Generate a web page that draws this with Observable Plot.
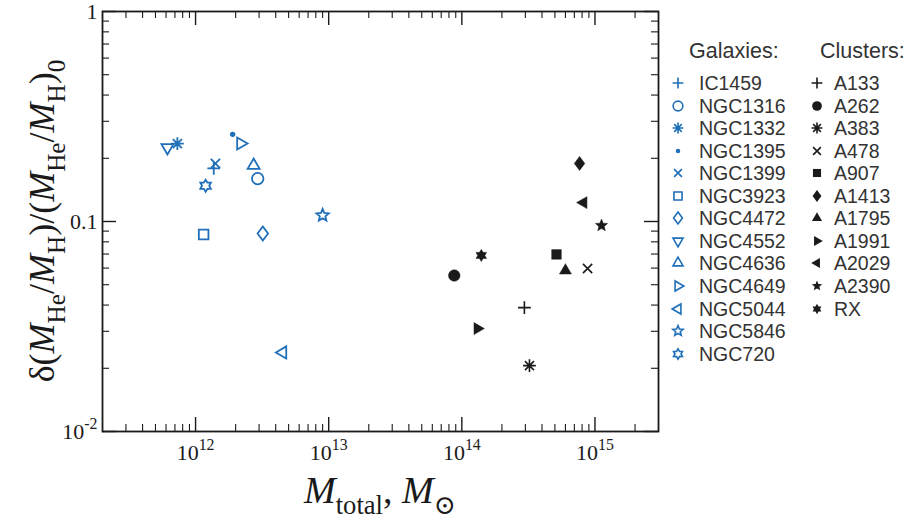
<!DOCTYPE html>
<html><head><meta charset="utf-8">
<script src="https://cdn.jsdelivr.net/npm/d3@7"></script>
<script src="https://cdn.jsdelivr.net/npm/@observablehq/plot@0.6"></script>
<style>
body{margin:0;background:#fff;}
#wrap{position:relative;width:913px;height:520px;overflow:hidden;}
#chart{position:absolute;left:0;top:0;}
.lg{position:absolute;font-family:"Liberation Sans",Arial,sans-serif;font-size:19.5px;color:#333;line-height:22px;white-space:nowrap;}
.lg.h{font-size:21.5px;}
.ls{position:absolute;}
</style></head><body>
<div id="wrap"><div id="chart"></div><div id="legend"></div></div>
<script>
// ---- data ----
const galaxyNames = ["IC1459","NGC1316","NGC1332","NGC1395","NGC1399","NGC3923","NGC4472","NGC4552","NGC4636","NGC4649","NGC5044","NGC5846","NGC720"];
const galaxyMass  = [1.37e12, 2.93e12, 7.3e11, 1.90e12, 1.41e12, 1.15e12, 3.2e12, 6.15e11, 2.73e12, 2.18e12, 4.52e12, 9.0e12, 1.19e12];
const galaxyDelta = [0.179, 0.160, 0.235, 0.260, 0.189, 0.0867, 0.0877, 0.225, 0.185, 0.235, 0.0238, 0.107, 0.148];
const galaxyShapes = ["plus","circle","asterisk","point","times","square","diamond","triangleDown","triangleUp","triangleRight","triangleLeft","star","hexagram"];

const clusterNames = ["A133","A262","A383","A478","A907","A1413","A1795","A1991","A2029","A2390","RX"];
const clusterMass  = [2.95e14, 8.77e13, 3.22e14, 8.8e14, 5.14e14, 7.66e14, 6.0e14, 1.31e14, 8.2e14, 1.12e15, 1.40e14];
const clusterDelta = [0.0389, 0.0553, 0.0206, 0.0597, 0.0697, 0.189, 0.0584, 0.0309, 0.123, 0.0957, 0.0689];
const clusterShapes = ["plus","circle","asterisk","times","square","diamond","triangleUp","triangleRight","triangleLeft","star","hexagram"];

const xDomain = [2e11, 3e15];
const yDomain = [0.01, 1];
const xTicks = [1e12, 1e13, 1e14, 1e15];
const yTicks = [0.01, 0.1, 1];

// ---- styling ----
const BLUE = "#1f6fb9", INK = "#1a1a1a";
const SERIF = "'Liberation Serif','DejaVu Serif',serif";
const W = 670, H = 520, ML = 102, MR = 12, MT = 11, MB = 89;
const innerW = W - ML - MR, innerH = H - MT - MB;

// ---- custom symbols ----
function sym(fn){ return {draw(ctx, size){ fn(ctx, Math.sqrt(size / Math.PI)); }}; }
function poly(c, pts){ c.moveTo(pts[0][0], pts[0][1]); for (let i = 1; i < pts.length; i++) c.lineTo(pts[i][0], pts[i][1]); c.closePath(); }
function tri(r, ang){ const out=[]; for (let k=0;k<3;k++){ const a=(ang+120*k)*Math.PI/180; out.push([r*Math.cos(a), r*Math.sin(a)]);} return out; }
function starPts(n, ro, ri){ const out=[]; for (let k=0;k<2*n;k++){ const a=-Math.PI/2 + k*Math.PI/n; const rr = k%2 ? ri : ro; out.push([rr*Math.cos(a), rr*Math.sin(a)]);} return out; }
const SYM = {
  plus: sym((c,r)=>{ c.moveTo(-r,0); c.lineTo(r,0); c.moveTo(0,-r); c.lineTo(0,r); }),
  times: sym((c,r)=>{ const a=r*0.72; c.moveTo(-a,-a); c.lineTo(a,a); c.moveTo(-a,a); c.lineTo(a,-a); }),
  asterisk: sym((c,r)=>{ for (let i=0;i<4;i++){ const t=i*Math.PI/4, x=r*Math.cos(t), y=r*Math.sin(t); c.moveTo(-x,-y); c.lineTo(x,y);} }),
  circle: sym((c,r)=>{ const a=r*0.9; c.moveTo(a,0); c.arc(0,0,a,0,2*Math.PI); }),
  point: sym((c,r)=>{ const a=r*0.42; c.moveTo(a,0); c.arc(0,0,a,0,2*Math.PI); }),
  square: sym((c,r)=>{ const a=r*0.75; c.rect(-a,-a,2*a,2*a); }),
  diamond: sym((c,r)=>poly(c, [[0,-r*1.1],[r*0.82,0],[0,r*1.1],[-r*0.82,0]])),
  triangleUp: sym((c,r)=>poly(c, tri(r*1.08,-90))),
  triangleDown: sym((c,r)=>poly(c, tri(r*1.08,90))),
  triangleRight: sym((c,r)=>poly(c, tri(r*1.08,0))),
  triangleLeft: sym((c,r)=>poly(c, tri(r*1.08,180))),
  star: sym((c,r)=>poly(c, starPts(5, r, r*0.45))),
  hexagram: sym((c,r)=>poly(c, starPts(6, r*0.95, r*0.56)))
};
const lineShapes = new Set(["plus","times","asterisk"]);

const galaxies = galaxyNames.map((n,i)=>({name:n, mass:galaxyMass[i], delta:galaxyDelta[i], shape:galaxyShapes[i]}));
const clusters = clusterNames.map((n,i)=>({name:n, mass:clusterMass[i], delta:clusterDelta[i], shape:clusterShapes[i]}));

// minor tick positions
const xMinor = [], yMinor = [];
for (let e = 11; e <= 15; e++) for (let m = 2; m <= 9; m++) { const v = m * 10 ** e; if (v > xDomain[0] * 1.001 && v < xDomain[1] * 0.999) xMinor.push(v); }
for (let e = -2; e <= -1; e++) for (let m = 2; m <= 9; m++) yMinor.push(m * 10 ** e);

const fmt = d => { const e = Math.round(Math.log10(d)); return (d === 1 || d === 0.1) ? String(d) : "10^" + e; };

const R = 6.4;
const chart = Plot.plot({
  width: W, height: H,
  marginLeft: ML, marginRight: MR, marginTop: MT, marginBottom: MB,
  style: {fontFamily: SERIF, fontSize: "22px", color: INK, background: "#fff"},
  x: {type: "log", domain: xDomain},
  y: {type: "log", domain: yDomain},
  marks: [
    Plot.tickX(xMinor, {x: d=>d, insetTop: innerH - 7, stroke: INK, strokeWidth: 1.1}),
    Plot.tickX(xMinor, {x: d=>d, insetBottom: innerH - 7, stroke: INK, strokeWidth: 1.1}),
    Plot.tickX(xTicks, {x: d=>d, insetTop: innerH - 14, stroke: INK, strokeWidth: 1.4}),
    Plot.tickX(xTicks, {x: d=>d, insetBottom: innerH - 14, stroke: INK, strokeWidth: 1.4}),
    Plot.tickY(yMinor, {y: d=>d, insetRight: innerW - 7, stroke: INK, strokeWidth: 1.1}),
    Plot.tickY(yMinor, {y: d=>d, insetLeft: innerW - 7, stroke: INK, strokeWidth: 1.1}),
    Plot.tickY(yTicks, {y: d=>d, insetRight: innerW - 14, stroke: INK, strokeWidth: 1.4}),
    Plot.tickY(yTicks, {y: d=>d, insetLeft: innerW - 14, stroke: INK, strokeWidth: 1.4}),
    Plot.axisX(xTicks, {tickSize: 0, tickPadding: 13, tickFormat: fmt, label: null}),
    Plot.axisY(yTicks, {tickSize: 0, tickPadding: 5, tickFormat: fmt, label: null}),
    Plot.frame({stroke: INK, strokeWidth: 1.8}),
    // galaxies
    Plot.dot(galaxies.filter(d=>d.shape !== "point"), {x: "mass", y: "delta", symbol: d=>SYM[d.shape], r: R, stroke: BLUE, fill: "none", strokeWidth: 1.8}),
    Plot.dot(galaxies.filter(d=>d.shape === "point"), {x: "mass", y: "delta", symbol: d=>SYM[d.shape], r: R, fill: BLUE, stroke: "none"}),
    // clusters
    Plot.dot(clusters.filter(d=>lineShapes.has(d.shape)), {x: "mass", y: "delta", symbol: d=>SYM[d.shape], r: R, stroke: INK, fill: "none", strokeWidth: 1.6}),
    Plot.dot(clusters.filter(d=>!lineShapes.has(d.shape)), {x: "mass", y: "delta", symbol: d=>SYM[d.shape], r: R, fill: INK, stroke: INK, strokeWidth: 0.5})
  ]
});
document.getElementById("chart").appendChild(chart);
const svg = d3.select(chart);

// superscripts in tick labels
svg.selectAll('g[aria-label="x-axis tick label"] text, g[aria-label="y-axis tick label"] text').each(function(){
  const t = this.textContent, m = t.match(/^10\^(.+)$/);
  if (!m) return;
  this.textContent = "";
  const s = d3.select(this);
  s.append("tspan").text("10");
  s.append("tspan").attr("dy", "-0.62em").attr("font-size", "0.72em").text(m[1]);
});

// rich axis labels
function rich(g, parts, fs){
  const t = g.append("text").attr("font-family", SERIF).attr("font-size", fs).attr("fill", INK).attr("text-anchor", "middle");
  let shift = 0;
  for (const [txt, kind] of parts) {
    const target = kind === "sub" ? 0.3 : 0;
    const ts = t.append("tspan").text(txt);
    const dy = (target - shift) * fs;
    if (dy) ts.attr("dy", dy);
    shift = target;
    if (kind === "i") ts.attr("font-style", "italic");
    if (kind === "sub") ts.attr("font-size", fs * 0.7);
  }
  return t;
}
rich(svg.append("g").attr("transform", `translate(${ML + innerW/2},503)`),
  [["M","i"],["total","sub"],[", ","n"],["M","i"],["\u2299","sub"]], 38);
rich(svg.append("g").attr("transform", `translate(54,${MT + innerH/2}) rotate(-90)`),
  [["\u03b4(","n"],["M","i"],["He","sub"],["/","n"],["M","i"],["H","sub"],[")/(","n"],["M","i"],["He","sub"],["/","n"],["M","i"],["H","sub"],[")","n"],["0","sub"]], 36);

// ---- legend (HTML) ----
const leg = document.getElementById("legend");
function addText(x, y, txt, head){ const d = document.createElement("div"); d.className = head ? "lg h" : "lg"; d.style.left = x + "px"; d.style.top = (y - 11) + "px"; d.textContent = txt; leg.appendChild(d); }
function addSym(x, y, shape, color, filled){
  const p = d3.path(); const r = 5.4; SYM[shape].draw(p, r*r*Math.PI);
  const s = d3.create("svg").attr("class","ls").attr("width",18).attr("height",18)
    .style("left", (x-9)+"px").style("top", (y-9)+"px");
  s.append("path").attr("transform","translate(9,9)").attr("d", p.toString())
    .attr("fill", filled ? color : "none").attr("stroke", filled ? "none" : color).attr("stroke-width", 1.6);
  leg.appendChild(s.node());
}
const rowH = 22.55, row0 = 83;
addText(689, 51, "Galaxies:", true);
galaxies.forEach((d,i)=>{ const y = row0 + i*rowH; addSym(678, y, d.shape, BLUE, d.shape === "point"); addText(699, y, d.name); });
addText(820, 51, "Clusters:", true);
clusters.forEach((d,i)=>{ const y = row0 + i*rowH; addSym(817, y, d.shape, INK, !lineShapes.has(d.shape)); addText(834, y, d.name); });
</script>
</body></html>
